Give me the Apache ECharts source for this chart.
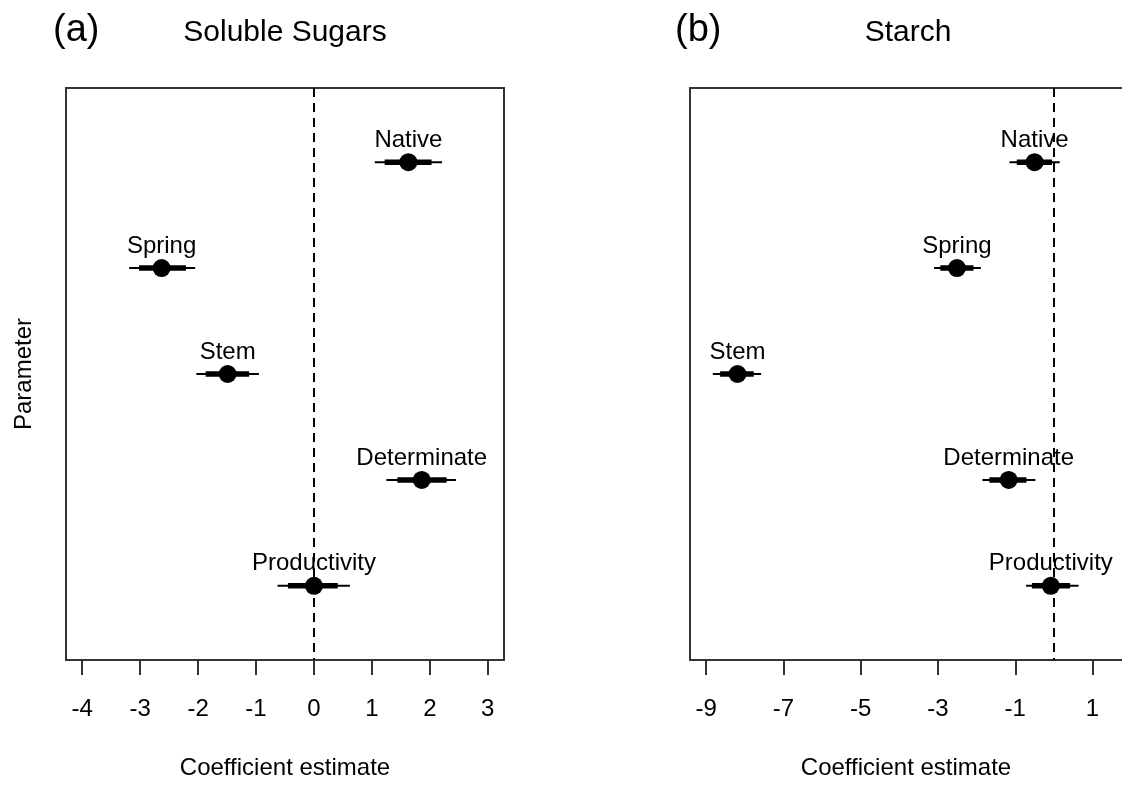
<!DOCTYPE html>
<html>
<head>
<meta charset="utf-8">
<script src="https://cdn.jsdelivr.net/npm/echarts@6/dist/echarts.min.js"></script>
<style>
html,body{margin:0;padding:0;background:#fff;}
#chart{width:1122px;height:785px;}
</style>
</head>
<body>
<div id="chart"></div>
<script>
const categories = ['Native', 'Spring', 'Stem', 'Determinate', 'Productivity'];

const sugarEst  = [1.63, -2.63, -1.49, 1.86, 0.00];
const sugarLo95 = [1.05, -3.19, -2.03, 1.25, -0.63];
const sugarHi95 = [2.21, -2.05, -0.95, 2.45, 0.62];
const sugarLo50 = [1.22, -3.02, -1.87, 1.44, -0.45];
const sugarHi50 = [2.03, -2.21, -1.12, 2.29, 0.41];

const starchEst  = [-0.50, -2.51, -8.19, -1.17, -0.08];
const starchLo95 = [-1.15, -3.10, -8.83, -1.85, -0.72];
const starchHi95 = [0.15, -1.89, -7.58, -0.48, 0.64];
const starchLo50 = [-0.96, -2.94, -8.64, -1.67, -0.57];
const starchHi50 = [-0.05, -2.08, -7.77, -0.71, 0.42];

const ticksA = [-4, -3, -2, -1, 0, 1, 2, 3];
const ticksB = [-9, -7, -5, -3, -1, 1];

const FONT = "'Liberation Sans', Arial, Helvetica, sans-serif";

function intervals(lo95, hi95, lo50, hi50) {
  return categories.map((c, i) => [i + 1, lo95[i], hi95[i], lo50[i], hi50[i]]);
}
function points(est) {
  return categories.map((c, i) => [est[i], i + 1, c]);
}

function renderInterval(params, api) {
  const y = api.value(0);
  const a = api.coord([api.value(1), y]);
  const b = api.coord([api.value(2), y]);
  const c = api.coord([api.value(3), y]);
  const d = api.coord([api.value(4), y]);
  return {
    type: 'group',
    children: [
      { type: 'line', shape: { x1: a[0], y1: a[1], x2: b[0], y2: b[1] },
        style: { stroke: '#000', lineWidth: 2 } },
      { type: 'line', shape: { x1: c[0], y1: c[1], x2: d[0], y2: d[1] },
        style: { stroke: '#000', lineWidth: 5.5, lineCap: 'butt' } }
    ]
  };
}

const AXCOL = '#333';

function xAxisDef(gridIndex, min, max, ticks) {
  return {
    type: 'value', gridIndex: gridIndex, min: min, max: max, position: 'bottom',
    splitLine: { show: false },
    axisLine: { show: true, onZero: false, lineStyle: { color: AXCOL, width: 2 } },
    axisTick: { show: true, length: 15, customValues: ticks, lineStyle: { color: AXCOL, width: 2 } },
    axisLabel: { show: true, customValues: ticks, margin: 37, fontSize: 24, color: '#000', fontFamily: FONT },
    name: 'Coefficient estimate', nameLocation: 'middle', nameGap: 96,
    nameTextStyle: { fontSize: 24, color: '#000', fontFamily: FONT }
  };
}
function topAxisDef(gridIndex, min, max) {
  return {
    type: 'value', gridIndex: gridIndex, min: min, max: max, position: 'top',
    splitLine: { show: false },
    axisLine: { show: true, onZero: false, lineStyle: { color: AXCOL, width: 2 } },
    axisTick: { show: false }, axisLabel: { show: false }
  };
}
function yAxisDef(gridIndex, withName, showLine) {
  return {
    type: 'value', gridIndex: gridIndex, min: 0.3, max: 5.7, inverse: true,
    splitLine: { show: false },
    axisLine: { show: showLine, onZero: false, lineStyle: { color: AXCOL, width: 2 } },
    axisTick: { show: false }, axisLabel: { show: false },
    name: withName ? 'Parameter' : '', nameLocation: 'middle', nameGap: 30, nameRotate: 90,
    nameTextStyle: { fontSize: 24, color: '#000', fontFamily: FONT }
  };
}

function pointSeries(idx, est) {
  return {
    type: 'scatter', xAxisIndex: idx, yAxisIndex: idx,
    data: points(est), symbol: 'circle', symbolSize: 18,
    itemStyle: { color: '#000', opacity: 1 }, z: 5,
    label: { show: true, position: 'top', distance: 1, formatter: p => p.data[2],
      fontSize: 24, color: '#000', fontFamily: FONT },
    markLine: {
      silent: true, symbol: 'none', label: { show: false },
      lineStyle: { color: '#000', type: [9, 6], width: 2 },
      data: [{ xAxis: 0 }]
    }
  };
}
function intervalSeries(idx, lo95, hi95, lo50, hi50) {
  return {
    type: 'custom', xAxisIndex: idx, yAxisIndex: idx,
    data: intervals(lo95, hi95, lo50, hi50),
    encode: { x: [1, 2], y: 0 },
    renderItem: renderInterval, z: 3
  };
}

const titleStyle = { fontSize: 30, fontWeight: 'normal', color: '#000', fontFamily: FONT };
const chart = echarts.init(document.getElementById('chart'), null, { renderer: 'canvas' });
chart.setOption({
  backgroundColor: '#fff',
  animation: false,
  textStyle: { fontFamily: FONT },
  title: [
    { text: '(a)', left: 48, top: 7, textStyle: { fontSize: 38, fontWeight: 'normal', color: '#000', fontFamily: FONT } },
    { text: 'Soluble Sugars', left: 280, textAlign: 'center', top: 13, textStyle: titleStyle },
    { text: '(b)', left: 670, top: 7, textStyle: { fontSize: 38, fontWeight: 'normal', color: '#000', fontFamily: FONT } },
    { text: 'Starch', left: 903, textAlign: 'center', top: 13, textStyle: titleStyle }
  ],
  grid: [
    { left: 66, top: 88, width: 438, height: 574, show: true, borderColor: AXCOL, borderWidth: 2, backgroundColor: 'transparent' },
    { left: 690, top: 88, right: 0, height: 574, show: false }
  ],
  xAxis: [ xAxisDef(0, -4.28, 3.28, ticksA), xAxisDef(1, -9.42, 1.763, ticksB), topAxisDef(1, -9.42, 1.763) ],
  yAxis: [ yAxisDef(0, true, false), yAxisDef(1, false, true) ],
  series: [
    intervalSeries(0, sugarLo95, sugarHi95, sugarLo50, sugarHi50),
    pointSeries(0, sugarEst),
    intervalSeries(1, starchLo95, starchHi95, starchLo50, starchHi50),
    pointSeries(1, starchEst)
  ]
});
</script>
</body>
</html>
